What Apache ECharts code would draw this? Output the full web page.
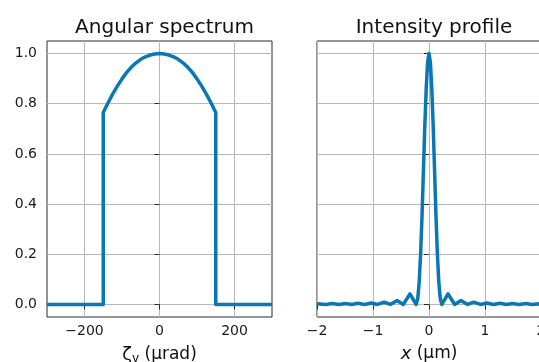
<!DOCTYPE html>
<html>
<head>
<meta charset="utf-8">
<style>
  html, body { margin: 0; padding: 0; background: #fff; }
  #chart { width: 539px; height: 362px; }
</style>
<script src="https://cdn.jsdelivr.net/npm/echarts@6/dist/echarts.min.js"></script>
</head>
<body>
<div id="chart"></div>
<script>
// angular spectrum (urad -> normalised amplitude)
const specX = [-300, -150, -150, -137.5, -125, -112.5, -100, -87.5, -75, -62.5, -50, -37.5, -25, -12.5, 0,
  12.5, 25, 37.5, 50, 62.5, 75, 87.5, 100, 112.5, 125, 137.5, 150, 150, 300];
const specY = [0, 0, 0.765, 0.803, 0.838, 0.87, 0.899, 0.925, 0.946, 0.963, 0.977, 0.987, 0.994, 0.998, 1,
  0.998, 0.994, 0.987, 0.977, 0.963, 0.946, 0.925, 0.899, 0.87, 0.838, 0.803, 0.765, 0, 0];

// intensity profile (um -> normalised intensity)
const profX = [-2.0, -1.84, -1.73, -1.61, -1.49, -1.38, -1.27, -1.15, -1.03, -0.92, -0.8, -0.69, -0.57, -0.46, -0.34, -0.23,
  -0.2, -0.175, -0.15, -0.125, -0.1, -0.075, -0.05, -0.025, 0,
  0.025, 0.05, 0.075, 0.1, 0.125, 0.15, 0.175, 0.2,
  0.23, 0.34, 0.46, 0.57, 0.69, 0.8, 0.92, 1.03, 1.15, 1.27, 1.38, 1.49, 1.61, 1.73, 1.84, 2.0];
const profY = [0.003, 0, 0.004, 0, 0.004, 0, 0.005, 0, 0.006, 0, 0.009, 0, 0.016, 0, 0.042, 0,
  0.025, 0.09, 0.2, 0.35, 0.53, 0.71, 0.86, 0.965, 1,
  0.965, 0.86, 0.71, 0.53, 0.35, 0.2, 0.09, 0.025,
  0, 0.042, 0, 0.016, 0, 0.009, 0, 0.006, 0, 0.005, 0, 0.004, 0, 0.004, 0, 0.003];

const yTicks = [0, 0.2, 0.4, 0.6, 0.8, 1.0];
const specTicks = [-200, 0, 200];

const FONT = 'DejaVu Sans';
const LINE = '#0a77b5';
const FRAME = '#2b2b2b';
const GRIDC = '#b8b8b8';

const minus = v => String(v).replace('-', '\u2212');

function xAx(idx, extra) {
  return Object.assign({
    type: 'value',
    gridIndex: idx,
    nameLocation: 'middle',
    nameGap: 28,
    nameMoveOverlap: false,
    axisLine: { show: false },
    axisTick: { show: true, inside: false, length: 5, lineStyle: { color: FRAME, width: 1 } },
    axisLabel: { color: '#1a1a1a', fontFamily: FONT, fontSize: 14, margin: 7, formatter: minus },
    splitLine: { show: true, lineStyle: { color: GRIDC, width: 1 } }
  }, extra);
}

function yAx(idx, showLabels) {
  return {
    type: 'value',
    gridIndex: idx,
    min: -0.05,
    max: 1.05,
    axisLine: { show: false },
    axisTick: { show: true, inside: false, length: 5, customValues: yTicks, lineStyle: { color: FRAME, width: 1 } },
    axisLabel: { show: showLabels, customValues: yTicks, color: '#1a1a1a', fontFamily: FONT, fontSize: 14, margin: 10,
      formatter: v => v.toFixed(1) },
    splitLine: { show: true, lineStyle: { color: GRIDC, width: 1 } }
  };
}

const chart = echarts.init(document.getElementById('chart'), null, { renderer: 'canvas' });
chart.setOption({
  animation: false,
  backgroundColor: '#fff',
  title: [
    { text: 'Angular spectrum', left: 159.5, top: 13, textAlign: 'center',
      textStyle: { fontFamily: FONT, fontSize: 20, fontWeight: 'normal', color: '#111' } },
    { text: 'Intensity profile', left: 429, top: 13, textAlign: 'center',
      textStyle: { fontFamily: FONT, fontSize: 20, fontWeight: 'normal', color: '#111' } }
  ],
  grid: [
    { left: 47, right: 267, top: 41, bottom: 45, show: true, borderColor: FRAME, borderWidth: 1,
      backgroundColor: 'transparent', containLabel: false, outerBoundsMode: 'none' },
    { left: 317, right: -2, top: 41, bottom: 45, show: true, borderColor: FRAME, borderWidth: 1,
      backgroundColor: 'transparent', containLabel: false, outerBoundsMode: 'none' }
  ],
  xAxis: [
    xAx(0, {
      min: -300, max: 300,
      name: '{z|ζ}{s|y} (μrad)',
      nameTextStyle: { fontFamily: FONT, fontSize: 17, color: '#111',
        rich: { z: { fontFamily: FONT, fontSize: 18, color: '#111' },
                s: { fontFamily: FONT, fontSize: 12, color: '#111', padding: [8, 0, 0, 0] } } },
      axisTick: { show: true, inside: false, length: 5, customValues: specTicks, lineStyle: { color: FRAME, width: 1 } },
      axisLabel: { customValues: specTicks, color: '#1a1a1a', fontFamily: FONT, fontSize: 14, margin: 7, formatter: minus },
      splitLine: { show: false }
    }),
    xAx(1, {
      min: -2, max: 2, interval: 1,
      name: '{i|x} (μm)',
      nameTextStyle: { fontFamily: FONT, fontSize: 17, color: '#111',
        rich: { i: { fontFamily: FONT, fontSize: 18, fontStyle: 'italic', color: '#111' } } }
    }),
    // helper axis only for the vertical grid lines of the left panel (every other 100 step)
    {
      type: 'value', gridIndex: 0, min: -300, max: 300, interval: 100, position: 'bottom',
      axisLine: { show: false }, axisTick: { show: false }, axisLabel: { show: false },
      splitLine: { show: true, showMinLine: true, showMaxLine: true,
        lineStyle: { color: ['rgba(0,0,0,0)', GRIDC], width: 1 } }
    }
  ],
  yAxis: [yAx(0, true), yAx(1, false)],
  series: [
    {
      type: 'line', xAxisIndex: 0, yAxisIndex: 0, showSymbol: false, silent: true,
      lineStyle: { color: LINE, width: 3.5, join: 'round' },
      data: specX.map((x, i) => [x, specY[i]])
    },
    {
      type: 'line', xAxisIndex: 1, yAxisIndex: 1, showSymbol: false, silent: true,
      lineStyle: { color: LINE, width: 3.5, join: 'round' },
      data: profX.map((x, i) => [x, profY[i]])
    }
  ]
});
</script>
</body>
</html>
